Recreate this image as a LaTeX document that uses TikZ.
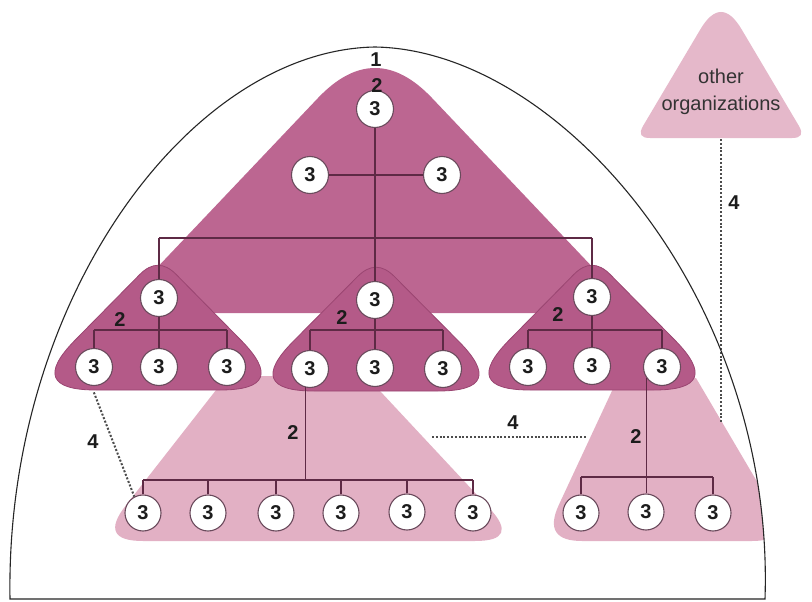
\documentclass[tikz,border=0pt]{standalone}
\usepackage{fontspec}
\setmainfont{Liberation Sans}
\usetikzlibrary{calc}
\definecolor{mainpink}{HTML}{BC6691}
\definecolor{subpink}{HTML}{B45A88}
\definecolor{subedge}{HTML}{9A4571}
\definecolor{lightpink}{HTML}{E2B0C4}
\definecolor{orgpink}{HTML}{E5B8CA}
\definecolor{treeline}{HTML}{5E2A45}
\definecolor{nodeedge}{HTML}{6A4A5C}
\definecolor{txt}{HTML}{1C1C1C}
% rounded triangle: #1 style, #2 apex, #3 right, #4 left, #5 #6 #7 insets
\newcommand\rtri[7]{%
\path[#1] ($(#2)!#5!(#4)$) .. controls ($(#2)!#5/3!(#4)$) and ($(#2)!#5/3!(#3)$) .. ($(#2)!#5!(#3)$)
 -- ($(#3)!#6!(#2)$) .. controls ($(#3)!#6/3!(#2)$) and ($(#3)!#6/3!(#4)$) .. ($(#3)!#6!(#4)$)
 -- ($(#4)!#7!(#3)$) .. controls ($(#4)!#7/3!(#3)$) and ($(#4)!#7/3!(#2)$) .. ($(#4)!#7!(#2)$) -- cycle;}
% quadrilateral with sharp top and rounded bottom corners: #1 style, #2 TL, #3 TR, #4 BR, #5 BL, #6 inset
\newcommand\bquad[6]{%
\path[#1] (#2) -- (#3)
 -- ($(#4)!#6!(#3)$) .. controls ($(#4)!#6/3!(#3)$) and ($(#4)!#6/3!(#5)$) .. ($(#4)!#6!(#5)$)
 -- ($(#5)!#6!(#4)$) .. controls ($(#5)!#6/3!(#4)$) and ($(#5)!#6/3!(#2)$) .. ($(#5)!#6!(#2)$) -- cycle;}
\begin{document}
\begin{tikzpicture}[x=1pt,y=-1pt,
  unit/.style={circle,draw=nodeedge,line width=1.1pt,fill=white,minimum size=37pt,inner sep=0pt,font=\fontsize{20}{22}\selectfont\bfseries,text=txt},
  lowunit/.style={unit,minimum size=36pt},
  lbl/.style={font=\fontsize{20}{22}\selectfont\bfseries,text=txt,inner sep=0pt},
  tree/.style={draw=treeline,line width=1.1pt},
  thickbar/.style={draw=treeline,line width=1.8pt},
  link/.style={draw=black!70,line width=2pt,dash pattern=on 2pt off 1.8pt},
  subtri/.style={fill=subpink,draw=subedge,line width=0.8pt},
  lowtri/.style={fill=lightpink},
]
\useasboundingbox (0,0) rectangle (812,602);
\fill[white] (0,0) rectangle (812,602);
% lower light shapes
\begin{scope}
\clip (10,599) .. controls (5,300) and (190,50) .. (375,47) .. controls (560,50) and (775,300) .. (765,599) -- cycle;
\bquad{lowtri}{227,376}{366,376}{520,541}{98,541}{45pt}
\bquad{lowtri}{618,378}{696,378}{792,541}{542,541}{40pt}
\end{scope}
% main triangle
\fill[mainpink] (114,313) -- (318,98) .. controls (356,58) and (394,58) .. (432,98) -- (636,313) -- cycle;
% sub triangles
\rtri{subtri}{158,256}{290,390}{26,390}{26pt}{70pt}{70pt}
\rtri{subtri}{376,258}{508,391}{244,391}{26pt}{70pt}{70pt}
\rtri{subtri}{592,256}{724,390}{460,390}{26pt}{70pt}{70pt}
% other organizations
\fill[orgpink] (700,30) .. controls (714,6) and (728,6) .. (742,30) -- (798.9,125.9) .. controls (803.6,134) and (801.3,138) .. (792,138) -- (650,138) .. controls (640.7,138) and (638.4,134) .. (643.1,125.9) -- cycle;
\node[font=\fontsize{20}{27}\selectfont, text=black!80, align=center] (org) at (721,92) {other\\organizations};
% nodes
\node[unit] (m0) at (375,109) {3};
\node[unit] (m1) at (310,175) {3};
\node[unit] (m2) at (442,175) {3};
\node[unit] (lt) at (159,298) {3};
\node[unit] (l1) at (94,367) {3};
\node[unit] (l2) at (159,367) {3};
\node[unit] (l3) at (227,367) {3};
\node[unit] (mt) at (375,300) {3};
\node[unit] (ml) at (310,369) {3};
\node[unit] (mm) at (375,368) {3};
\node[unit] (mr) at (443,369) {3};
\node[unit] (rt) at (592,297) {3};
\node[unit] (r1) at (528,367) {3};
\node[unit] (r2) at (592,366) {3};
\node[unit] (r3) at (662,367) {3};
\node[lowunit] (LL1) at (143,513) {3};
\node[lowunit] (LL2) at (208,513) {3};
\node[lowunit] (LL3) at (276,513) {3};
\node[lowunit] (LL4) at (341,513) {3};
\node[lowunit] (LL5) at (407,512) {3};
\node[lowunit] (LL6) at (473,513) {3};
\node[lowunit] (LR1) at (581,513) {3};
\node[lowunit] (LR2) at (646,512) {3};
\node[lowunit] (LR3) at (713,513) {3};
% coordinates for bars
\coordinate (mbar) at (0,238);
\coordinate (sbar) at (0,330);
\coordinate (LLbar) at (0,480);
\coordinate (LRbar) at (0,477);
% main tree lines
\draw[tree] (m1) -- (m2);
\draw[tree] (m0) -- (mt);
\draw[tree] (lt.north |- mbar) -- (rt.north |- mbar);
\draw[tree] (lt.north) -- (lt.north |- mbar);
\draw[tree] (rt.north) -- (rt.north |- mbar);
% left sub
\draw[tree] (lt.south) -- (lt.south |- sbar);
\draw[tree] (l1.north |- sbar) -- (l3.north |- sbar);
\foreach \n in {l1,l2,l3} \draw[tree] (\n.north) -- (\n.north |- sbar);
% middle sub
\draw[tree] (mt.south) -- (mt.south |- sbar);
\draw[tree] (ml.north |- sbar) -- (mr.north |- sbar);
\foreach \n in {ml,mm,mr} \draw[tree] (\n.north) -- (\n.north |- sbar);
% right sub
\draw[tree] (rt.south) -- (rt.south |- sbar);
\draw[tree] (r1.north |- sbar) -- (r3.north |- sbar);
\foreach \n in {r1,r2,r3} \draw[tree] (\n.north) -- (\n.north |- sbar);
% lower left
\draw[tree] (ml.255) -- (ml.255 |- LLbar);
\draw[thickbar] (LL1.north |- LLbar) -- (LL6.north |- LLbar);
\foreach \n in {LL1,LL2,LL3,LL4,LL5,LL6} \draw[tree] (\n.north) -- (\n.north |- LLbar);
% lower right
\draw[tree] (r3.215) -- (r3.215 |- LR2.north);
\draw[tree] (LR1.north |- LRbar) -- (LR3.north |- LRbar);
\foreach \n in {LR1,LR3} \draw[tree] (\n.north) -- (\n.north |- LRbar);
% dotted links
\coordinate (d1) at (432,437);
\coordinate (d2) at (587,437);
\coordinate (orgbase) at (721,139);
\coordinate (d3) at (721,423);
\draw[link,shorten <=7pt] (l1.262) -- (LL1.118);
\draw[link] (d1) -- (d2);
\draw[link] (orgbase) -- (d3);
% labels
\node[lbl] (n1) at (376,60) {1};
\node[lbl] (n2a) at (377,86) {2};
\node[lbl] (n2b) at (120,320) {2};
\node[lbl] (n2c) at (342,318) {2};
\node[lbl] (n2d) at (558,315) {2};
\node[lbl] (n2e) at (293,433) {2};
\node[lbl] (n2f) at (636,437) {2};
\node[lbl] (n4a) at (93,442) {4};
\node[lbl] (n4b) at (513,423) {4};
\node[lbl] (n4c) at (734,203) {4};
% arch
\draw[black!85,line width=1.1pt] (10,599) .. controls (5,300) and (190,50) .. (375,47) .. controls (560,50) and (775,300) .. (765,599) -- cycle;
\end{tikzpicture}
\end{document}
